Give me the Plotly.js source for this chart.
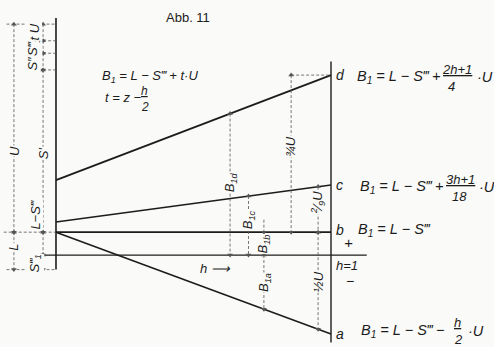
<!DOCTYPE html>
<html>
<head>
<meta charset="utf-8">
<script src="https://cdn.plot.ly/plotly-3.0.1.min.js"></script>
<style>body{margin:0;background:#fafaf8}</style>
</head>
<body>
<div id="abb" style="width:494px;height:347px"></div>
<script>
// h runs 0..1 from left to right, B1 in units of U, zero on the h line
var h = [0, 1];
var lineD = [0.36, 0.865];
var lineC = [0.159, 0.337];
var lineB = [0.11, 0.11];
var lineA = [0.11, -0.38];

var baseH = [-0.04, 1.13];
var baseY = [0, 0];
var leftAxisY = [-0.07, 1.14];
var rightAxisY = [-0.42, 0.93];

// dashed dimension lines: x, top, bottom, which ends get arrows
var dimX   = [-0.153, -0.153, -0.047, -0.047, -0.047, -0.047, -0.047, -0.047, 0.633, 0.70, 0.756, 0.756, 0.855, 0.953, 0.953];
var dimTop = [1.11, 0.11, 1.11, 1.03, 0.97, 0.89, 0.11, 0, 0.68, 0.284, 0.17, 0, 0.865, 0.329, 0.11];
var dimBot = [0.11, -0.07, 1.03, 0.97, 0.89, 0.11, 0, -0.07, 0, 0, 0.11, -0.26, 0.11, 0.11, -0.357];
var dimEnds = ['both','both','both','both','both','both','both','both','both','both','bot','both','both','both','both'];

// dashed extension lines
var extY  = [1.11, 1.03, 0.97, 0.89, 0.11, -0.07, 0.865];
var extH0 = [-0.18, -0.065, -0.065, -0.065, -0.19, -0.18, 0.855];
var extH1 = [0, 0, 0, 0, 0, 0, 1];

// rotated labels on the dimension lines
var dimText = ['U', 'L', 'S′', 'L−S‴', 'S‴<sub>1</sub>', 'S″', 'S‴<sub>1</sub>', 't U',
  'B<sub>1d</sub>', 'B<sub>1c</sub>', 'B<sub>1b</sub>', 'B<sub>1a</sub>',
  '¾U', '<sup>2</sup>⁄<sub>9</sub>U', '½U'];
var dimTextH = [-0.153, -0.153, -0.047, -0.076, -0.076, -0.084, -0.084, -0.08, 0.633, 0.70, 0.756, 0.756, 0.855, 0.953, 0.953];
var dimTextY = [0.5, 0.04, 0.49, 0.19, -0.04, 0.92, 1.0, 1.075, 0.35, 0.17, 0.055, -0.13, 0.52, 0.25, -0.13];

// formulas and letters
var txt = ['B<sub>1</sub> = L − S‴ + t·U', 't = z −',
  'd', 'B<sub>1</sub> = L − S‴ +', '·U',
  'c', 'B<sub>1</sub> = L − S‴ +', '·U',
  'b', 'B<sub>1</sub> = L − S‴',
  '+', 'h=1', '−',
  'a', 'B<sub>1</sub> = L − S‴ −', '·U',
  'h ⟶'];
var txtH = [0.16, 0.171, 1.011, 1.087, 1.525, 1.011, 1.098, 1.531, 1.011, 1.09,
  1.062, 1.012, 1.069, 1.011, 1.1, 1.49, 0.58];
var txtY = [0.86, 0.755, 0.865, 0.856, 0.856, 0.337, 0.327, 0.327, 0.12, 0.12,
  0.062, -0.05, -0.125, -0.38, -0.365, -0.365, -0.0625];
var txtSize = [13, 13, 14, 14.5, 14.5, 14, 14.5, 14.5, 14, 14.5, 15, 13, 14, 14, 14.5, 14.5, 13];
var txtAnchor = ['left','left','left','left','left','left','left','left','left','left',
  'center','left','center','left','left','left','center'];

// fractions: numerator over denominator, bar at fracY
var fracNum = ['h', '2h+1', '3h+1', 'h'];
var fracDen = ['2', '4', '18', '2'];
var fracH = [0.305, 1.4, 1.414, 1.445];
var fracY = [0.755, 0.856, 0.327, -0.36];

var ink = '#1c1c1c', dash = '#555';
var fam = 'Liberation Sans, Arial, sans-serif';

var traces = [];
function solid(x, y, w) {
  traces.push({x: x, y: y, mode: 'lines', line: {color: ink, width: w}, hoverinfo: 'skip'});
}
solid(h, lineD, 1.8);
solid(h, lineC, 1.6);
solid(h, lineB, 1.6);
solid(h, lineA, 1.6);
solid(baseH, baseY, 1.3);
solid([0, 0], leftAxisY, 1.6);
solid([1, 1], rightAxisY, 1.4);

for (var i = 0; i < extY.length; i++) {
  traces.push({x: [extH0[i], extH1[i]], y: [extY[i], extY[i]], mode: 'lines',
    line: {color: dash, width: 0.8, dash: '3px,2px'}, hoverinfo: 'skip'});
}
for (var i = 0; i < dimX.length; i++) {
  var sym = [dimEnds[i] == 'bot' ? 'line-ew' : 'triangle-up', 'triangle-down'];
  traces.push({x: [dimX[i], dimX[i]], y: [dimTop[i], dimBot[i]], mode: 'lines+markers',
    line: {color: dash, width: 0.8, dash: '3px,2px'},
    marker: {symbol: sym, size: 5, color: dash, line: {width: 0}}, hoverinfo: 'skip'});
}

var ann = [];
ann.push({x: 0.48, y: 1.144, text: 'Abb. 11', showarrow: false,
  font: {family: fam, size: 13, color: ink}});
for (var i = 0; i < dimText.length; i++) {
  ann.push({x: dimTextH[i], y: dimTextY[i], text: dimText[i], showarrow: false, textangle: -90,
    bgcolor: '#fafaf8', borderpad: 0, font: {family: fam, size: 13, color: ink, style: 'italic'}});
}
for (var i = 0; i < txt.length; i++) {
  ann.push({x: txtH[i], y: txtY[i], text: txt[i], showarrow: false, xanchor: txtAnchor[i],
    font: {family: fam, size: txtSize[i], color: ink, style: 'italic'}});
}
for (var i = 0; i < fracNum.length; i++) {
  var fs = i == 0 ? 12 : 13;
  ann.push({x: fracH[i], y: fracY[i], text: '<u>' + fracNum[i] + '</u>', showarrow: false,
    xanchor: 'left', yanchor: 'bottom', borderpad: 0, yshift: -1,
    font: {family: fam, size: fs, color: ink, style: 'italic'}});
  ann.push({x: fracH[i], y: fracY[i], text: fracDen[i], showarrow: false,
    xanchor: 'left', yanchor: 'top', borderpad: 0, yshift: -1, xshift: fracNum[i].length > 1 ? 6 : 0,
    font: {family: fam, size: fs, color: ink, style: 'italic'}});
}

var layout = {
  width: 494, height: 347,
  margin: {l: 0, r: 0, t: 0, b: 0},
  paper_bgcolor: '#fafaf8', plot_bgcolor: '#fafaf8',
  showlegend: false,
  xaxis: {range: [-0.2036, 1.5927], visible: false, fixedrange: true},
  yaxis: {range: [-0.442, 1.226], visible: false, fixedrange: true},
  annotations: ann
};

Plotly.newPlot('abb', traces, layout, {staticPlot: true});
</script>
</body>
</html>
